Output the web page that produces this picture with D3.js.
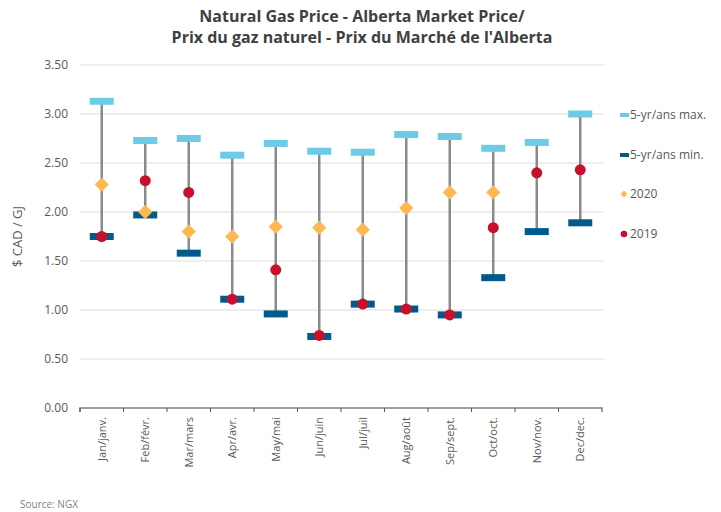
<!DOCTYPE html>
<meta charset="utf-8">
<title>Natural Gas Price - Alberta</title>
<style>
body { margin: 0; background: #fff; }
svg text { font-family: "Open Sans", "DejaVu Sans", sans-serif; }
.title { font-size: 16px; font-weight: 700; fill: #404040; }
.tick text { fill: #595959; }
.legend text { font-size: 12px; fill: #595959; }
</style>
<body>
<script src="https://cdn.jsdelivr.net/npm/d3@7"></script>
<script>

var months = ["Jan/janv.", "Feb/févr.", "Mar/mars", "Apr/avr.", "May/mai", "Jun/juin",
              "Jul/juil", "Aug/août", "Sep/sept.", "Oct/oct.", "Nov/nov.", "Dec/dec."];
var max5 = [3.13, 2.73, 2.75, 2.58, 2.70, 2.62, 2.61, 2.79, 2.77, 2.65, 2.71, 3.00];
var min5 = [1.75, 1.97, 1.58, 1.11, 0.96, 0.73, 1.06, 1.01, 0.95, 1.33, 1.80, 1.89];
var y2020 = [2.28, 2.00, 1.80, 1.75, 1.85, 1.84, 1.82, 2.04, 2.20, 2.20, null, null];
var y2019 = [1.75, 2.32, 2.20, 1.11, 1.41, 0.74, 1.06, 1.01, 0.95, 1.84, 2.40, 2.43];
var yTicks = [0, 0.5, 1, 1.5, 2, 2.5, 3, 3.5];

var width = 721, height = 512;
var mLeft = 80, mRight = 602, mTop = 65, mBottom = 408;

var colMax = "#6ccbe6", colMin = "#005a8b", col2020 = "#fdb851", col2019 = "#c8102e";

var svg = d3.select("body").append("svg")
    .attr("width", width)
    .attr("height", height);

var x = d3.scaleBand().domain(months).range([mLeft, mRight]);
var y = d3.scaleLinear().domain([0, 3.5]).range([mBottom, mTop]);

// title
svg.append("text").attr("class", "title")
    .attr("x", 362).attr("y", 22).attr("text-anchor", "middle")
    .text("Natural Gas Price - Alberta Market Price/");
svg.append("text").attr("class", "title")
    .attr("x", 362).attr("y", 43).attr("text-anchor", "middle")
    .text("Prix du gaz naturel - Prix du Marché de l'Alberta");

// grid
svg.append("g").selectAll("line")
    .data(yTicks.slice(1))
  .enter().append("line")
    .attr("x1", mLeft).attr("x2", mRight + 2)
    .attr("y1", function(d) { return y(d); })
    .attr("y2", function(d) { return y(d); })
    .attr("stroke", "#dedede").attr("stroke-width", 1.2);

var yAxis = svg.append("g")
    .attr("transform", "translate(" + mLeft + ",0)")
    .call(d3.axisLeft(y).tickValues(yTicks).tickFormat(d3.format(".2f")).tickSize(0).tickPadding(12));
yAxis.select(".domain").remove();
yAxis.selectAll("text").style("font-size", "12px");

var xAxis = svg.append("g")
    .attr("transform", "translate(0," + mBottom + ")")
    .call(d3.axisBottom(x).tickSize(4).tickSizeOuter(4));
xAxis.select(".domain").attr("stroke", "#7f7f7f").attr("stroke-width", 1.5)
    .attr("d", "M" + mLeft + ",4V0H" + mRight + "V4");
xAxis.selectAll(".tick line").remove();
xAxis.selectAll(".tick").append("line")
    .attr("x1", -x.bandwidth() / 2).attr("x2", -x.bandwidth() / 2)
    .attr("y2", 4).attr("stroke", "#555");
xAxis.selectAll("text")
    .style("font-size", "11px")
    .attr("transform", "rotate(-90)")
    .attr("text-anchor", "end")
    .attr("x", -9).attr("y", 0).attr("dy", "0.35em");

svg.append("text")
    .attr("transform", "translate(22," + ((mTop + mBottom) / 2) + ") rotate(-90)")
    .attr("text-anchor", "middle")
    .style("font-size", "13px").style("fill", "#595959")
    .text("$ CAD / GJ");

var cx = function(i) { return x(months[i]) + x.bandwidth() / 2; };
var idx = d3.range(months.length);

// range lines
svg.append("g").selectAll("line")
    .data(idx)
  .enter().append("line")
    .attr("x1", cx).attr("x2", cx)
    .attr("y1", function(i) { return y(max5[i]); })
    .attr("y2", function(i) { return y(min5[i]); })
    .attr("stroke", "#8a8a8a").attr("stroke-width", 2.5);

var bw = 24, bh = 7;
svg.append("g").selectAll("rect")
    .data(idx)
  .enter().append("rect")
    .attr("x", function(i) { return cx(i) - bw / 2; })
    .attr("y", function(i) { return y(max5[i]) - bh / 2; })
    .attr("width", bw).attr("height", bh)
    .attr("fill", colMax);

svg.append("g").selectAll("rect")
    .data(idx)
  .enter().append("rect")
    .attr("x", function(i) { return cx(i) - bw / 2; })
    .attr("y", function(i) { return y(min5[i]) - bh / 2; })
    .attr("width", bw).attr("height", bh)
    .attr("fill", colMin);

svg.append("g").selectAll("path")
    .data(idx.filter(function(i) { return y2020[i] != null; }))
  .enter().append("path")
    .attr("d", d3.symbol(d3.symbolDiamond2, 130))
    .attr("transform", function(i) { return "translate(" + cx(i) + "," + y(y2020[i]) + ")"; })
    .attr("fill", col2020);

svg.append("g").selectAll("circle")
    .data(idx)
  .enter().append("circle")
    .attr("cx", cx)
    .attr("cy", function(i) { return y(y2019[i]); })
    .attr("r", 5.5)
    .attr("fill", col2019);

// legend
var legend = svg.append("g").attr("class", "legend");
var items = [
  { label: "5-yr/ans max.", type: "bar", color: colMax, y: 115 },
  { label: "5-yr/ans min.", type: "bar", color: colMin, y: 155 },
  { label: "2020", type: "diamond", color: col2020, y: 194 },
  { label: "2019", type: "circle", color: col2019, y: 234 }
];
items.forEach(function(d) {
  if (d.type == "bar") {
    legend.append("rect").attr("x", 620).attr("y", d.y - 2).attr("width", 9).attr("height", 4).attr("fill", d.color);
  } else if (d.type == "diamond") {
    legend.append("path").attr("d", d3.symbol(d3.symbolDiamond2, 30))
      .attr("transform", "translate(624," + d.y + ")").attr("fill", d.color);
  } else {
    legend.append("circle").attr("cx", 624).attr("cy", d.y).attr("r", 3.3).attr("fill", d.color);
  }
  legend.append("text").attr("x", 630).attr("y", d.y).attr("dy", "0.35em").text(d.label);
});

svg.append("text")
    .attr("x", 20).attr("y", 508)
    .style("font-size", "10px").style("fill", "#7f7f7f")
    .text("Source: NGX");

</script>
</body>
</html>
